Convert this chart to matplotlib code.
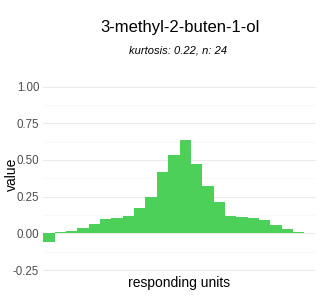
import matplotlib
matplotlib.use("Agg")
import matplotlib.pyplot as plt
from matplotlib.ticker import MultipleLocator

plt.rcParams["font.family"] = ["Liberation Sans", "DejaVu Sans"]

# values per responding unit
units = list(range(1, 25))
values = [-0.061, 0.011, 0.018, 0.039, 0.066, 0.100, 0.107, 0.120,
          0.175, 0.250, 0.418, 0.534, 0.636, 0.472, 0.322, 0.216,
          0.120, 0.114, 0.107, 0.093, 0.055, 0.032, 0.011, 0.002]
yticks = [-0.25, 0.0, 0.25, 0.50, 0.75, 1.00]
ytick_labels = ["-0.25", "0.00", "0.25", "0.50", "0.75", "1.00"]

fig = plt.figure(figsize=(3.2, 3.0), dpi=100)
ax = fig.add_axes([0.1355, 0.069, 0.851, 0.673])

ax.bar(range(len(units)), values, width=1.0, color="#4cd05a", zorder=2)

ax.set_xlim(-0.5, len(units) - 0.5)
ax.set_ylim(-0.3125, 1.0625)
ax.set_yticks(yticks)
ax.set_yticklabels(ytick_labels)
ax.yaxis.set_minor_locator(MultipleLocator(0.125))
ax.set_xticks([])

ax.grid(axis="y", which="major", color="#ebebeb", linewidth=0.8, zorder=0)
ax.grid(axis="y", which="minor", color="#f5f5f5", linewidth=0.5, zorder=0)
for s in ax.spines.values():
    s.set_visible(False)
ax.tick_params(axis="y", which="both", length=0, labelsize=8.3, labelcolor="#4d4d4d", pad=3)

ax.set_xlabel("responding units", fontsize=10, va="center")
ax.xaxis.set_label_coords(0.5, -0.02)
ax.set_ylabel("value", fontsize=10, va="center")
ax.yaxis.set_label_coords(-0.117, 0.52)

fig.text(0.561, 0.908, "3-methyl-2-buten-1-ol", ha="center", va="center", fontsize=12)
fig.text(0.556, 0.832, "kurtosis: 0.22, n: 24", ha="center", va="center",
         fontsize=8, style="italic")

fig.savefig("out.png", dpi=100)
